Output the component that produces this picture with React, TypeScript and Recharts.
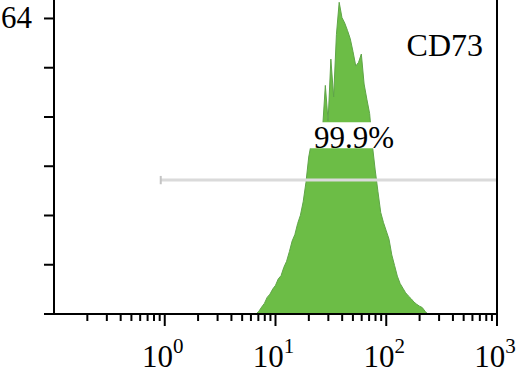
import { Area, AreaChart, ReferenceArea, ReferenceLine, XAxis, YAxis } from 'recharts';

// histogram bins (channel value on log axis) and cell counts
const channels = [
  6.68, 7.08, 7.5, 7.94, 8.41, 8.91, 9.44, 10.0, 10.59, 11.22, 11.89, 12.59, 13.34, 14.13, 14.96, 15.85,
  16.79, 17.78, 18.84, 19.95, 21.13, 22.39, 23.71, 25.12, 26.61, 28.18, 29.85, 31.62, 33.5, 35.48, 37.58,
  39.81, 42.17, 44.67, 47.32, 50.12, 53.09, 56.23, 59.57, 63.1, 66.83, 70.79, 74.99, 79.43, 84.14, 89.13,
  94.41, 100, 105.9, 112.2, 118.9, 125.9, 133.4, 141.3, 149.6, 158.5, 167.9, 177.8, 188.4, 199.5, 211.3,
  223.9, 237.1,
];
const counts = [
  0, 0.6, 1.5, 2.3, 3.6, 4.3, 5.4, 6.2, 7.6, 8.3, 10.1, 11.4, 13.5, 15.8, 17.2, 19.6,
  21.4, 24.3, 28.5, 34.0, 37.2, 38.0, 38.6, 39.4, 40.1, 49.5, 41.8, 55.2, 47.0, 60.5, 67.5,
  64.2, 63.0, 61.4, 59.6, 56.8, 53.7, 54.5, 56.3, 49.8, 46.5, 43.4, 36.5, 31.2, 26.5, 22.0,
  19.8, 18.0, 16.2, 12.8, 10.5, 8.2, 6.6, 5.6, 4.6, 3.9, 3.3, 2.6, 2.1, 1.7, 1.4,
  0.6, 0,
];

const majorTicks = [1, 10, 100, 1000];
const minorTicks = [
  0.2, 0.3, 0.4, 0.5, 0.6, 0.7, 0.8, 0.9, 2, 3, 4, 5, 6, 7, 8, 9,
  20, 30, 40, 50, 60, 70, 80, 90, 200, 300, 400, 500, 600, 700, 800, 900,
];
const yTicks = [0, 10.667, 21.333, 32, 42.667, 53.333, 64];

const marker = 'CD73';
const gatePercent = '99.9%';
const gateStart = 0.92;
const gateEnd = 1000;
const gateLevel = 29;

const data = channels.map((x, i) => ({ x, count: counts[i] }));
const xTicks = [...minorTicks, ...majorTicks].sort((a, b) => a - b);

const FONT = '"Liberation Serif", "DejaVu Serif", serif';

const XTick = ({ x, y, payload }: any) => {
  const v = payload.value;
  const exp = Math.round(Math.log10(v));
  const major = majorTicks.includes(v);
  return (
    <g>
      <line x1={x} y1={y} x2={x} y2={y + (major ? 12 : 7)} stroke="#000" strokeWidth={2} />
      {major && (
        <text x={x - 2} y={y + 53} textAnchor="middle" fontFamily={FONT} fontSize={31} fill="#000">
          <tspan>10</tspan>
          <tspan dy={-14} fontSize={21}>{exp}</tspan>
        </text>
      )}
    </g>
  );
};

const YTick = ({ x, y, payload }: any) => (
  <g>
    <line x1={x - 10} y1={y} x2={x} y2={y} stroke="#000" strokeWidth={2} />
    {payload.value === 64 && (
      <text x={x - 22} y={y + 10} textAnchor="end" fontFamily={FONT} fontSize={31} fill="#000">
        64
      </text>
    )}
  </g>
);

export default function App() {
  return (
    <div style={{ position: 'absolute', left: 0, top: 0, width: 520, height: 379, background: '#fff' }}>
      <AreaChart width={520} height={379} data={data} margin={{ top: 0, right: 23, bottom: 0, left: 0 }}>
        <XAxis
          dataKey="x"
          type="number"
          scale="log"
          domain={[0.1, 1000]}
          allowDataOverflow
          ticks={xTicks}
          interval={0}
          tickSize={0}
          tickMargin={0}
          tick={<XTick />}
          height={65}
          axisLine={{ stroke: '#000', strokeWidth: 2 }}
        />
        <YAxis
          type="number"
          domain={[0, 68]}
          ticks={yTicks}
          interval={0}
          tickSize={0}
          tickMargin={0}
          tick={<YTick />}
          width={54}
          axisLine={{ stroke: '#000', strokeWidth: 2 }}
        />
        <ReferenceLine
          segment={[{ x: gateStart, y: gateLevel }, { x: gateEnd, y: gateLevel }]}
          stroke="#dadada"
          strokeWidth={3}
        />
        <ReferenceLine
          segment={[{ x: gateStart, y: gateLevel - 0.9 }, { x: gateStart, y: gateLevel + 0.9 }]}
          stroke="#c4c4c4"
          strokeWidth={2}
        />
        <Area
          type="linear"
          dataKey="count"
          stroke="#5fa548"
          strokeWidth={1}
          fill="#6cbd46"
          fillOpacity={1}
          isAnimationActive={false}
        />
        <ReferenceArea
          x1={18.8}
          x2={133}
          y1={35.9}
          y2={41.5}
          fill="#fff"
          fillOpacity={1}
          stroke="none"
          label={{ value: gatePercent, position: 'insideBottom', fontFamily: FONT, fontSize: 31, fill: '#000', offset: 0, dx: 1 }}
        />
        <ReferenceLine x={1000} stroke="#000" strokeWidth={2} ifOverflow="visible" />
        <text x={483} y={56} textAnchor="end" fontFamily={FONT} fontSize={32} fill="#000">
          {marker}
        </text>
      </AreaChart>
    </div>
  );
}
